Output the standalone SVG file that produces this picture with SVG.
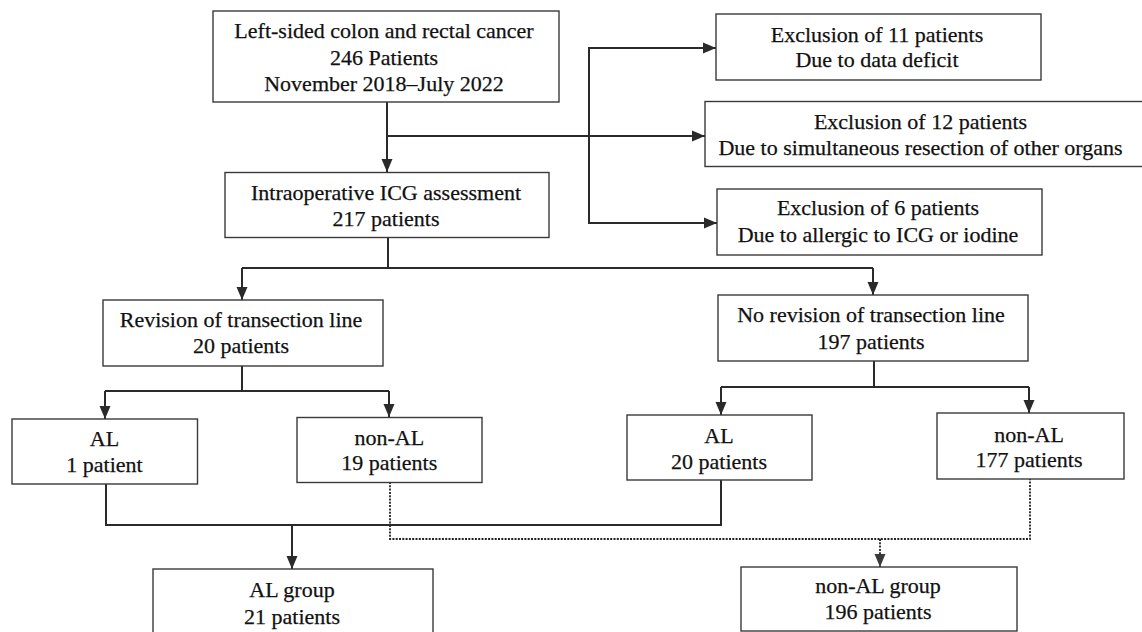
<svg xmlns="http://www.w3.org/2000/svg" width="1142" height="632" viewBox="0 0 1142 632">
<style>
.box{fill:#fff;stroke:#3a3a3a;stroke-width:1.4}
.t{font-family:"Liberation Serif","Times New Roman","DejaVu Serif",serif;font-size:22px;fill:#111;stroke:#111;stroke-width:0.25;text-anchor:middle}
.ln{fill:none;stroke:#2a2a2a;stroke-width:2}
.dot{fill:none;stroke:#222;stroke-width:1.8;stroke-dasharray:2 1.3}
</style>
<defs>
<marker id="ah" markerUnits="userSpaceOnUse" markerWidth="13" markerHeight="12" refX="13" refY="6" orient="auto">
<path d="M0,0.5 L13,6 L0,11.5 z" fill="#2a2a2a"/>
</marker>
<marker id="ahg" markerUnits="userSpaceOnUse" markerWidth="13" markerHeight="12" refX="13" refY="6" orient="auto">
<path d="M0,0.5 L13,6 L0,11.5 z" fill="#3a3a3a"/>
</marker>
</defs>
<rect width="1142" height="632" fill="#fff"/>
<g id="connectors">
<path class="ln" d="M387,102 V172" marker-end="url(#ah)"/>
<path class="ln" d="M387,136 H705" marker-end="url(#ah)"/>
<path class="ln" d="M589,48 V223"/>
<path class="ln" d="M588,48 H716" marker-end="url(#ah)"/>
<path class="ln" d="M588,223 H717" marker-end="url(#ah)"/>
<path class="ln" d="M388,238 V268"/>
<path class="ln" d="M242,268 H873"/>
<path class="ln" d="M242,268 V300" marker-end="url(#ah)"/>
<path class="ln" d="M873,268 V295" marker-end="url(#ah)"/>
<path class="ln" d="M242,366 V391"/>
<path class="ln" d="M105,391 H389"/>
<path class="ln" d="M105,391 V419" marker-end="url(#ah)"/>
<path class="ln" d="M389,391 V417" marker-end="url(#ah)"/>
<path class="ln" d="M874,361 V387"/>
<path class="ln" d="M721,387 H1029"/>
<path class="ln" d="M721,387 V415" marker-end="url(#ah)"/>
<path class="ln" d="M1029,387 V413" marker-end="url(#ah)"/>
<path class="ln" d="M106,484 V525 H721 V480"/>
<path class="ln" d="M292,525 V569" marker-end="url(#ah)"/>
<path class="dot" d="M390,482 V539 H1030 V479"/>
<path class="dot" d="M880,539 V567" marker-end="url(#ahg)"/>
</g>
<g id="n-start">
<rect class="box" x="213" y="11" width="346" height="91"/>
<text class="t" x="384" y="38">Left-sided colon and rectal cancer</text>
<text class="t" x="384" y="64.5">246 Patients</text>
<text class="t" x="384" y="91">November 2018–July 2022</text>
</g>
<g id="n-ex11">
<rect class="box" x="716" y="14" width="325" height="66"/>
<text class="t" x="877" y="42">Exclusion of 11 patients</text>
<text class="t" x="877" y="67">Due to data deficit</text>
</g>
<g id="n-ex12">
<rect class="box" x="705" y="101.5" width="445" height="65"/>
<text class="t" x="920.5" y="128.5">Exclusion of 12 patients</text>
<text class="t" x="920.5" y="154.5">Due to simultaneous resection of other organs</text>
</g>
<g id="n-ex6">
<rect class="box" x="717" y="189" width="325" height="66"/>
<text class="t" x="878" y="215">Exclusion of 6 patients</text>
<text class="t" x="878" y="242">Due to allergic to ICG or iodine</text>
</g>
<g id="n-icg">
<rect class="box" x="225" y="172.5" width="324" height="65"/>
<text class="t" x="386" y="200">Intraoperative ICG assessment</text>
<text class="t" x="386" y="225.5">217 patients</text>
</g>
<g id="n-rev">
<rect class="box" x="103" y="300" width="280" height="66"/>
<text class="t" x="241" y="327">Revision of transection line</text>
<text class="t" x="241" y="353">20 patients</text>
</g>
<g id="n-norev">
<rect class="box" x="718" y="295" width="310" height="66"/>
<text class="t" x="871" y="322">No revision of transection line</text>
<text class="t" x="871" y="349">197 patients</text>
</g>
<g id="n-al1">
<rect class="box" x="12" y="419" width="185.5" height="65"/>
<text class="t" x="104.5" y="446">AL</text>
<text class="t" x="104.5" y="472">1 patient</text>
</g>
<g id="n-nonal19">
<rect class="box" x="297" y="417.5" width="185" height="65"/>
<text class="t" x="389.3" y="444.5">non-AL</text>
<text class="t" x="389.3" y="470">19 patients</text>
</g>
<g id="n-al20">
<rect class="box" x="627" y="415" width="185" height="65"/>
<text class="t" x="719" y="443">AL</text>
<text class="t" x="719" y="468.5">20 patients</text>
</g>
<g id="n-nonal177">
<rect class="box" x="937" y="413" width="187" height="66"/>
<text class="t" x="1029" y="442">non-AL</text>
<text class="t" x="1029" y="467">177 patients</text>
</g>
<g id="n-algroup">
<rect class="box" x="153" y="569" width="280" height="70"/>
<text class="t" x="292" y="597">AL group</text>
<text class="t" x="292" y="623.5">21 patients</text>
</g>
<g id="n-nonalgroup">
<rect class="box" x="741" y="567" width="276" height="64"/>
<text class="t" x="878" y="593">non-AL group</text>
<text class="t" x="878" y="618.5">196 patients</text>
</g>
</svg>
